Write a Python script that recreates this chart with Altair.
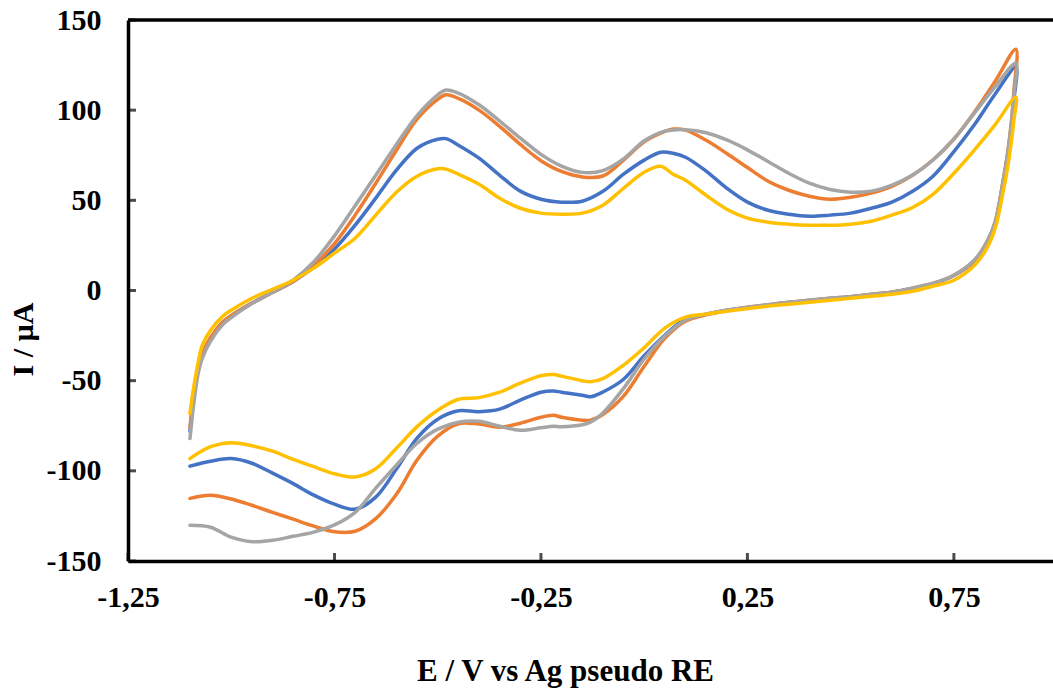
import altair as alt
import pandas as pd

# ---- potential grids (V) ----
fwd_E = [-1.10, -1.095, -1.09, -1.08, -1.07, -1.05, -1.02, -1.00,
         -0.95, -0.90, -0.85, -0.80, -0.75, -0.70, -0.65, -0.60, -0.55, -0.50,
         -0.48,
         -0.45, -0.40, -0.35, -0.30, -0.25, -0.20, -0.15, -0.10, -0.05, 0.00,
         0.04, 0.07,
         0.10, 0.15, 0.20, 0.25, 0.30, 0.35, 0.40, 0.45, 0.50, 0.55, 0.60,
         0.65, 0.70, 0.75, 0.80, 0.85, 0.90]
rev_E = [0.895, 0.89, 0.88, 0.87, 0.85, 0.83, 0.80,
         0.75, 0.70, 0.65, 0.60, 0.55, 0.50, 0.45, 0.40, 0.35, 0.30, 0.25,
         0.20, 0.15, 0.10, 0.05, 0.00,
         -0.05, -0.10, -0.13, -0.15, -0.20, -0.22,
         -0.25, -0.30, -0.35, -0.40, -0.45, -0.50, -0.55, -0.60, -0.65, -0.70,
         -0.75, -0.80, -0.85, -0.90, -0.95, -1.00, -1.05, -1.10]

# ---- currents (uA) ----
blue_fwd = [-78, -67, -58, -44, -36, -26.5, -17.5, -14,
            -7, -1, 5, 13, 23, 36.2, 51.2, 66.7, 78.9, 83.9,
            84.2,
            80.6, 73.4, 63.9, 55.1, 50.6, 49.0, 49.5, 55.0, 64.5, 72.3,
            76.7, 76.1,
            73.9, 66.2, 56.7, 49.0, 44.5, 42.3, 41.2, 41.8, 42.9, 45.6, 49.0,
            55.0, 63.5, 77.0, 92.0, 109.0, 123.8]
blue_rev = [105, 92, 74, 61, 37.5, 26.5, 16.5,
            8.3, 3.8, 1.1, -1.0, -2.3, -3.5, -4.5, -5.6, -6.7, -8.0, -9.5,
            -11.0, -13.2, -15.9, -24.8, -36.2,
            -49.2, -56.3, -58.9, -58.1, -56.4, -55.7,
            -56.4, -60.8, -65.8, -67.2, -66.7, -71.4, -81.9, -99.0, -114.6, -121.3,
            -118.5, -113.5, -107.1, -101.3, -95.8, -93.2, -94.7, -97.4]

orange_fwd = [-76, -66, -57, -43, -35, -26, -17.5, -14,
              -7, -1, 5, 14, 26, 41.8, 59.5, 77.8, 95.0, 106.0,
              108.5,
              106.5, 100.0, 91.0, 81.0, 72.0, 66.0, 63.0, 63.5, 72.3, 82.4,
              87.2, 89.5,
              88.9, 83.3, 76.0, 68.2, 60.6, 55.6, 52.3, 50.6, 51.7, 54.0, 57.8,
              63.9, 72.5, 84.0, 99.0, 116.0, 133.8]
orange_rev = [110, 95, 76, 62, 38, 27, 16.8,
              8.5, 4.0, 1.3, -0.9, -2.1, -3.4, -4.3, -5.4, -6.5, -7.9, -9.3,
              -11.2, -13.5, -17.0, -26.5, -42.0,
              -58.6, -68.8, -71.9, -71.9, -70.3, -69.2,
              -70.3, -73.6, -75.8, -74.1, -73.9, -80.8, -94.0, -113.0, -126.5, -133.5,
              -133.8, -130.7, -126.8, -123.0, -119.1, -115.6, -113.5, -115.3]

gray_fwd = [-82.1, -71.4, -61.6, -46.0, -37.5, -28.0, -18.8, -15.0,
            -7.2, -1.0, 5.7, 15.9, 30.3, 47.0, 63.9, 81.0, 97.0, 108.5,
            111.2,
            109.5, 103.0, 94.0, 84.5, 75.5, 69.0, 65.5, 66.5, 73.0, 83.0,
            87.7, 89.0,
            89.2, 87.5, 83.5, 78.0, 71.5, 65.0, 59.5, 56.0, 54.5, 55.1, 58.4,
            64.0, 72.5, 84.0, 98.5, 113.0, 126.0]
gray_rev = [108, 95, 76, 62, 38, 27, 17,
            8.5, 4.0, 1.3, -0.9, -2.1, -3.4, -4.3, -5.4, -6.5, -7.9, -9.3,
            -10.9, -13.1, -16.5, -25.3, -38.0,
            -54.3, -67.9, -73.0, -74.4, -75.5, -75.3,
            -76.1, -77.5, -75.3, -72.5, -73.0, -76.9, -84.7, -96.9, -109.6, -123.0,
            -130.0, -134.0, -136.3, -138.5, -139.3, -136.8, -131.3, -130.2]

yellow_fwd = [-68.2, -59.7, -52.5, -39.8, -30.3, -22.0, -14.2, -10.9,
              -4.3, 0.7, 5.7, 12.4, 20.7, 29.0, 41.8, 54.5, 63.4, 67.5,
              67.3,
              64.5, 58.9, 51.2, 45.6, 42.9, 42.3, 42.9, 47.3, 56.7, 65.6,
              68.9, 64.5,
              61.2, 52.8, 45.1, 40.1, 37.9, 36.8, 36.2, 36.2, 36.8, 38.4, 41.8,
              46.0, 53.5, 65.0, 78.0, 92.0, 107.2]
yellow_rev = [94, 84, 68, 55.6, 34.5, 23.5, 14.0,
              5.7, 2.4, -0.4, -2.1, -3.2, -4.3, -5.4, -6.5, -7.6, -8.7, -10.1,
              -11.5, -13.1, -14.8, -20.9, -31.7,
              -41.4, -48.9, -50.6, -50.0, -47.5, -46.6,
              -47.3, -51.4, -56.4, -59.4, -60.3, -66.4, -75.5, -87.5, -98.8, -103.4,
              -101.6, -97.7, -93.7, -89.1, -86.1, -84.4, -86.6, -93.2]

series_names = ["Series 1", "Series 2", "Series 3", "Series 4"]
series_colors = ["#4472C4", "#ED7D31", "#A5A5A5", "#FFC000"]
series_fwd = [blue_fwd, orange_fwd, gray_fwd, yellow_fwd]
series_rev = [blue_rev, orange_rev, gray_rev, yellow_rev]

x_ticks = [-1.25, -0.75, -0.25, 0.25, 0.75]
y_ticks = [-150, -100, -50, 0, 50, 100, 150]

FONT = "Liberation Serif"

x_scale = alt.Scale(domain=[-1.25, 0.99], nice=False, zero=False)
y_scale = alt.Scale(domain=[-150, 150], nice=False, zero=False)

x_axis = alt.Axis(values=x_ticks, labelExpr="replace('' + datum.value, '.', ',')",
                  grid=False, ticks=False, domainColor="black", domainWidth=3.5,
                  labelFont=FONT, labelFontWeight="bold", labelFontSize=30,
                  labelColor="black", labelPadding=21, labelFlush=False,
                  labelOverlap=False,
                  titleFont=FONT, titleFontWeight="bold", titleFontSize=31,
                  titleColor="black", titleX=437, titleY=119,
                  titleAlign="center", titleBaseline="alphabetic")
y_axis = alt.Axis(values=y_ticks, labelExpr="'' + datum.value",
                  grid=False, ticks=False, domainColor="black", domainWidth=3.5,
                  labelFont=FONT, labelFontWeight="bold", labelFontSize=30,
                  labelColor="black", labelPadding=27, labelFlush=False,
                  labelOverlap=False,
                  titleFont=FONT, titleFontWeight="bold", titleFontSize=30,
                  titleColor="black", titleX=-96, titleY=319, titleAngle=270,
                  titleAlign="center", titleBaseline="alphabetic")

X = alt.X("E:Q", scale=x_scale, axis=x_axis, title="E / V vs Ag pseudo RE")
Y = alt.Y("I:Q", scale=y_scale, axis=y_axis, title="I / µA")

layers = []
for name, color, f, r in zip(series_names, series_colors, series_fwd, series_rev):
    E = fwd_E + rev_E
    I = f + r
    df = pd.DataFrame({"E": E, "I": I, "idx": list(range(len(E))), "series": name})
    layers.append(
        alt.Chart(df).mark_line(interpolate="catmull-rom", strokeWidth=3.5,
                                color=color, strokeJoin="round", strokeCap="round")
        .encode(x=X, y=Y, order="idx:Q")
    )

top_df = pd.DataFrame({"I": [y_ticks[-1]]})
layers.append(alt.Chart(top_df).mark_rule(color="black", strokeWidth=3.5).encode(y=Y))

xt_df = pd.DataFrame({"E": x_ticks, "I": [y_ticks[0]] * len(x_ticks)})
layers.append(alt.Chart(xt_df).mark_tick(orient="vertical", size=8, thickness=3,
                                         color="black", yOffset=-4).encode(x=X, y=Y))
yt_df = pd.DataFrame({"E": [x_ticks[0]] * len(y_ticks), "I": y_ticks})
layers.append(alt.Chart(yt_df).mark_tick(orient="horizontal", size=8, thickness=3,
                                         color="black", xOffset=4).encode(x=X, y=Y))

chart = alt.layer(*layers).properties(
    width=925, height=541,
    autosize=alt.AutoSizeParams(type="none"),
    padding={"left": 128, "top": 20, "right": 0, "bottom": 128},
    background="white",
).configure_view(stroke=None)

chart.save("out.html", embed_options={"renderer": "svg", "actions": False})
